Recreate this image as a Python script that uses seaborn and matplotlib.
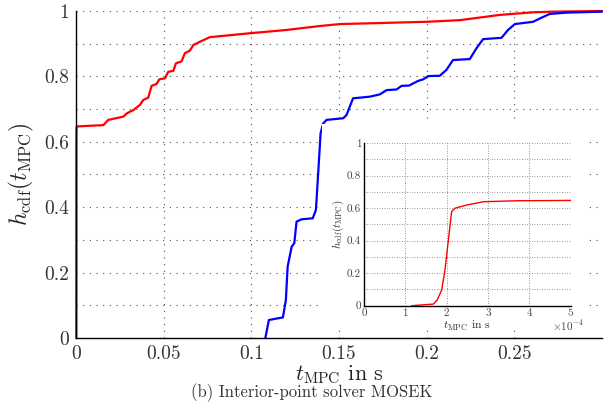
import numpy as np
import pandas as pd
import seaborn as sns
import matplotlib
matplotlib.use('Agg')
import matplotlib.pyplot as plt
from matplotlib.patches import Rectangle

# ---------------- data ----------------
# Interior-point solver MOSEK, empirical CDF of t_MPC (seconds)
red_x = [1.15e-4, 1.68e-4, 1.77e-4, 1.88e-4, 1.96e-4, 2.04e-4, 2.12e-4, 2.2e-4,
         2.49e-4, 2.89e-4, 3.7e-4, 5e-4,
         0.0156, 0.0184, 0.027, 0.029, 0.0327, 0.0365, 0.0384, 0.0412, 0.0431,
         0.046, 0.0475, 0.0507, 0.0526, 0.0555, 0.057, 0.0602, 0.0621, 0.065,
         0.0669, 0.0707, 0.0764, 0.0992, 0.120, 0.139, 0.1505, 0.200, 0.219,
         0.2417, 0.2607, 0.272, 0.3]
red_y = [0.0, 0.01, 0.035, 0.096, 0.22, 0.40, 0.578, 0.599,
         0.619, 0.639, 0.645, 0.647,
         0.651, 0.667, 0.677, 0.687, 0.697, 0.713, 0.728, 0.735, 0.771,
         0.777, 0.791, 0.794, 0.814, 0.817, 0.840, 0.846, 0.871, 0.879,
         0.896, 0.906, 0.920, 0.932, 0.942, 0.954, 0.960, 0.967, 0.972,
         0.988, 0.996, 0.998, 1.0]

blue_x = [0.108, 0.110, 0.118, 0.1197, 0.1207, 0.123, 0.1245, 0.1258, 0.1287,
          0.135, 0.1368, 0.1372, 0.1395, 0.141, 0.1429, 0.1524, 0.1543, 0.158,
          0.1676, 0.1733, 0.1771, 0.1828, 0.1857, 0.190, 0.195, 0.198, 0.2009,
          0.2075, 0.2113, 0.215, 0.2246, 0.2284, 0.2322, 0.2427, 0.2464, 0.2503,
          0.2607, 0.2645, 0.2702, 0.2797, 0.3]
blue_y = [0.0, 0.055, 0.063, 0.116, 0.218, 0.279, 0.29, 0.356, 0.363,
          0.366, 0.391, 0.422, 0.626, 0.656, 0.667, 0.672, 0.682, 0.733,
          0.738, 0.745, 0.758, 0.760, 0.771, 0.772, 0.786, 0.791, 0.801,
          0.802, 0.820, 0.850, 0.853, 0.886, 0.914, 0.918, 0.942, 0.960,
          0.967, 0.977, 0.991, 0.995, 0.998]

main_xticks = [0, 0.05, 0.1, 0.15, 0.2, 0.25]
main_xlabels = ['0', '0.05', '0.1', '0.15', '0.2', '0.25']
main_yticks = [0, 0.2, 0.4, 0.6, 0.8, 1.0]
main_ylabels = ['0', '0.2', '0.4', '0.6', '0.8', '1']
minor_yticks = [0.1, 0.3, 0.5, 0.7, 0.9]
inset_xticks = [0, 1e-4, 2e-4, 3e-4, 4e-4, 5e-4]
inset_xlabels = ['0', '1', '2', '3', '4', '5']
inset_yticks = [0, 0.2, 0.4, 0.6, 0.8, 1.0]
inset_ylabels = ['0', '0.2', '0.4', '0.6', '0.8', '1']

# ---------------- style ----------------
sns.set_style('white')
plt.rcParams['font.family'] = ['cmr10', 'DejaVu Serif']
plt.rcParams['mathtext.fontset'] = 'cm'
plt.rcParams['axes.unicode_minus'] = False
plt.rcParams['axes.formatter.use_mathtext'] = True

fig = plt.figure(figsize=(6.14, 4.11), dpi=100)
ax = fig.add_axes([0.12378, 0.17762, 0.85668, 0.79562])

grid_kw = dict(color='0.3', linestyle=(0, (1, 5)), linewidth=0.8)

sns.lineplot(x=red_x, y=red_y, ax=ax, color='red', linewidth=1.6,
             sort=False, estimator=None)
sns.lineplot(x=blue_x, y=blue_y, ax=ax, color='blue', linewidth=1.6,
             sort=False, estimator=None)
for ln in ax.lines:
    ln.set_clip_on(False)
    ln.set_solid_joinstyle('round')

ax.set_xlim(0, 0.3)
ax.set_ylim(0, 1)
ax.set_xticks(main_xticks)
ax.set_xticklabels(main_xlabels)
ax.set_yticks(main_yticks)
ax.set_yticklabels(main_ylabels)
ax.set_yticks(minor_yticks, minor=True)
ax.grid(True, which='both', **grid_kw)
ax.set_axisbelow(True)
for s in ['top', 'right']:
    ax.spines[s].set_visible(False)
for s in ['left', 'bottom']:
    ax.spines[s].set_color('black')
    ax.spines[s].set_linewidth(1.0)
ax.tick_params(which='major', direction='in', length=4, width=0.8,
               labelsize=14, pad=5, colors='black')
ax.tick_params(which='minor', direction='in', length=2.5, width=0.6)
ax.tick_params(axis='y', labelcolor='#333333')
ax.tick_params(axis='x', labelcolor='#333333')
ax.set_xlabel(r'$t_{\mathrm{MPC}}$ in s', fontsize=16)
ax.xaxis.set_label_coords(0.5, -0.076)
ax.set_ylabel(r'$h_{\mathrm{cdf}}(t_{\mathrm{MPC}})$', fontsize=17, labelpad=6)

# white background behind the inset
rect = Rectangle((322 / 614, (411 - 330) / 411), (587 - 322) / 614, (330 - 124) / 411,
                 transform=fig.transFigure, facecolor='white', edgecolor='none',
                 zorder=0.5)
fig.add_artist(rect)

# ---------------- inset ----------------
ax2 = fig.add_axes([0.5928, 0.2562, 0.3366, 0.3959])
ax2.set_zorder(2)
sns.lineplot(x=red_x, y=red_y, ax=ax2, color='red', linewidth=1.0,
             sort=False, estimator=None)
ax2.set_xlim(0, 5e-4)
ax2.set_ylim(0, 1)
ax2.set_xticks(inset_xticks)
ax2.set_xticklabels(inset_xlabels)
ax2.set_yticks(inset_yticks)
ax2.set_yticklabels(inset_ylabels)
ax2.set_yticks(minor_yticks, minor=True)
ax2.grid(True, which='both', color='0.45', linestyle=(0, (1, 2)), linewidth=0.6)
ax2.set_axisbelow(True)
for s in ['top', 'right']:
    ax2.spines[s].set_visible(False)
for s in ['left', 'bottom']:
    ax2.spines[s].set_color('black')
    ax2.spines[s].set_linewidth(1.0)
ax2.tick_params(which='major', direction='in', length=2.5, width=0.6,
                labelsize=8, pad=2, labelcolor='#444444')
ax2.tick_params(which='minor', direction='in', length=1.5, width=0.5)
ax2.set_xlabel(r'$t_{\mathrm{MPC}}$ in s', fontsize=8.5, labelpad=1, color='#333333')
ax2.set_ylabel(r'$h_{\mathrm{cdf}}(t_{\mathrm{MPC}})$', fontsize=8, labelpad=1,
               color='#333333')
ax2.text(0.987, -0.12, r'$\times10^{-4}$', transform=ax2.transAxes,
         ha='center', va='center', fontsize=8, color='#444444')

fig.text(312 / 614, 1 - 393 / 411, '(b) Interior-point solver MOSEK',
         ha='center', va='center', fontsize=12, color='#333333')

fig.savefig('out.png', dpi=100)
